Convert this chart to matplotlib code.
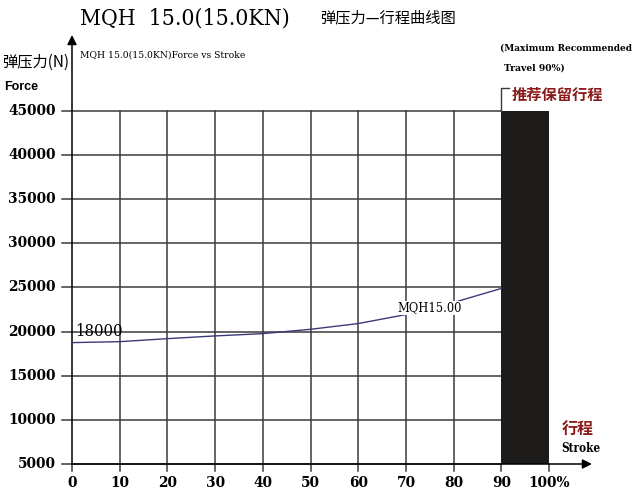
import matplotlib
matplotlib.use("Agg")
import matplotlib.pyplot as plt

# values
stroke = [0, 10, 20, 30, 40, 50, 60, 70, 80, 90]
force = [18750, 18860, 19200, 19510, 19770, 20260, 20910, 21930, 23300, 24890]

x_ticks = [0, 10, 20, 30, 40, 50, 60, 70, 80, 90, 100]
x_tick_labels = ["0", "10", "20", "30", "40", "50", "60", "70", "80", "90", "100%"]
y_ticks = [5000, 10000, 15000, 20000, 25000, 30000, 35000, 40000, 45000]

reserve_start, reserve_end = 90, 100
force_max = 45000

SERIF = ["DejaVu Serif", "Noto Sans CJK SC"]
CJK = ["Noto Sans CJK SC", "DejaVu Sans"]
COND = "condensed"
DARK_RED = "#8b1a1a"
GRID = "#3a3a3a"

fig = plt.figure(figsize=(6.41, 5.00), dpi=100)
ax = fig.add_axes([72 / 641, 0.072, (592 - 72) / 641, 0.858])
ax.set_xlim(0, 109)
ax.set_ylim(5000, 53600)
ax.axis("off")

# grid
for y in y_ticks:
    ax.plot([-2, reserve_start], [y, y], color=GRID, lw=1.1, clip_on=False, zorder=1)
for x in x_ticks[1:-2]:
    ax.plot([x, x], [4200, force_max], color=GRID, lw=1.1, clip_on=False, zorder=1)
for x in (0, reserve_start, reserve_end):
    ax.plot([x, x], [4200, 5000], color=GRID, lw=1.1, clip_on=False, zorder=1)

# axes with arrows
ax.annotate("", xy=(109, 5000), xytext=(0, 5000),
            arrowprops=dict(arrowstyle="-|>", color="black", lw=1.1,
                            mutation_scale=14, shrinkA=0, shrinkB=0))
ax.annotate("", xy=(0, 53600), xytext=(0, 5000),
            arrowprops=dict(arrowstyle="-|>", color="black", lw=1.1,
                            mutation_scale=14, shrinkA=0, shrinkB=0))

# reserved travel bar
ax.bar(reserve_start, force_max - 5000, bottom=5000,
       width=reserve_end - reserve_start, align="edge", color="#1e1b1b", zorder=2)

# force curve
ax.plot(stroke, force, color="#3b3a78", lw=1.0, zorder=3)

# tick labels
for x, lab in zip(x_ticks, x_tick_labels):
    ax.text(x, 2800, lab, ha="center", va="center", family=SERIF,
            fontstretch=COND, fontweight="bold", fontsize=11)
for y in y_ticks:
    ax.text(-3.4, y, str(y), ha="right", va="center", family=SERIF,
            fontstretch=COND, fontweight="bold", fontsize=11)

# annotations on the curve
ax.text(0.6, 19000, "18000", ha="left", va="bottom", family=SERIF,
        fontstretch=COND, fontsize=12, zorder=4)
ax.text(68.2, 22700, "MQH15.00", ha="left", va="center", family=SERIF,
        fontstretch=COND, fontsize=9.2, zorder=4,
        bbox=dict(facecolor="white", edgecolor="none", pad=0.5))

# titles and labels
fig.text(80 / 641, 1 - 18 / 500, "MQH  15.0(15.0KN)",
         ha="left", va="center", family=SERIF, fontstretch=COND, fontsize=16.5)
fig.text(320 / 641, 1 - 18 / 500, "弹压力—行程曲线图",
         ha="left", va="center", family=CJK, fontsize=11)
fig.text(80 / 641, 1 - 55 / 500, "MQH 15.0(15.0KN)Force vs Stroke",
         ha="left", va="center", family=SERIF, fontstretch=COND, fontsize=7.4)
fig.text(2 / 641, 1 - 62 / 500, "弹压力(N)", ha="left", va="center",
         family=CJK, fontsize=11)
fig.text(4 / 641, 1 - 87 / 500, "Force", ha="left", va="center",
         family="Liberation Sans", fontweight="bold", fontsize=9)

fig.text(500 / 641, 1 - 48 / 500, "(Maximum Recommended", ha="left", va="center",
         family=SERIF, fontstretch=COND, fontweight="bold", fontsize=7.2)
fig.text(504 / 641, 1 - 68 / 500, "Travel 90%)", ha="left", va="center",
         family=SERIF, fontstretch=COND, fontweight="bold", fontsize=7.4)
fig.text(512 / 641, 1 - 95 / 500, "推荐保留行程", ha="left", va="center",
         family=CJK, fontweight="bold", fontsize=11, color=DARK_RED)
ax.plot([reserve_start, reserve_start, reserve_start + 1.5], [force_max, 47600, 47600],
        color=GRID, lw=1.0, clip_on=False)

fig.text(578 / 641, 1 - 430 / 500, "行程", ha="center", va="center",
         family=CJK, fontweight="bold", fontsize=11.5, color=DARK_RED)
fig.text(581 / 641, 1 - 448 / 500, "Stroke", ha="center", va="center",
         family=SERIF, fontstretch=COND, fontweight="bold", fontsize=8.5)

fig.savefig("out.png", dpi=100, facecolor="white")
